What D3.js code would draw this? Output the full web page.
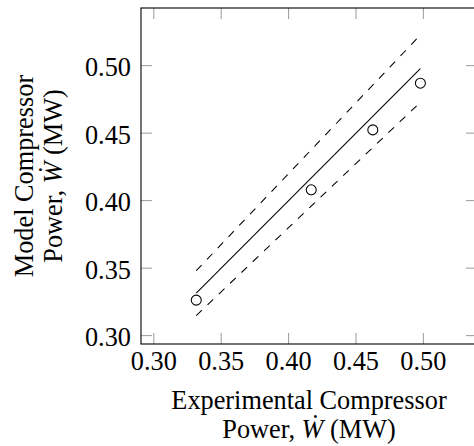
<!DOCTYPE html>
<html>
<head>
<meta charset="utf-8">
<script src="https://cdn.jsdelivr.net/npm/d3@7"></script>
<style>
  body { margin: 0; background: #fff; }
  svg { display: block; }
  text { font-family: "Liberation Serif", "Times New Roman", serif; fill: #000; }
</style>
</head>
<body>
<svg id="chart" width="474" height="446"></svg>
<script>
/* global d3 */

// measured points: experimental vs model compressor power (MW)
const expPower = [0.3315, 0.4168, 0.4625, 0.4978];
const modelPower = [0.3263, 0.408, 0.4524, 0.487];

// parity line and +/-5% band, as endpoints
const parityX = [0.3315, 0.4978];
const parityY = [0.3315, 0.4978];
const upperY = [0.3481, 0.5227];
const lowerY = [0.3149, 0.4729];

const xTicks = [0.30, 0.35, 0.40, 0.45, 0.50];
const yTicks = [0.30, 0.35, 0.40, 0.45, 0.50];

const xDomain = [0.2905, 0.5398];
const yDomain = [0.2938, 0.5427];

const svg = d3.select("#chart");
const box = { left: 141, top: 8, right: 477, bottom: 344 };
const fontSize = 26.3;
const tickLen = 11;
const tickColor = "#9a9a9a";

const x = d3.scaleLinear().domain(xDomain).range([box.left, box.right]);
const y = d3.scaleLinear().domain(yDomain).range([box.bottom, box.top]);
const fmt = d3.format(".2f");

// ticks on all four sides, pointing inward
const ticks = svg.append("g").attr("stroke", tickColor).attr("stroke-width", 1);
xTicks.forEach(t => {
  ticks.append("line").attr("x1", x(t)).attr("x2", x(t))
    .attr("y1", box.bottom).attr("y2", box.bottom - tickLen);
  ticks.append("line").attr("x1", x(t)).attr("x2", x(t))
    .attr("y1", box.top).attr("y2", box.top + tickLen);
});
yTicks.forEach(t => {
  ticks.append("line").attr("y1", y(t)).attr("y2", y(t))
    .attr("x1", box.left).attr("x2", box.left + tickLen);
  ticks.append("line").attr("y1", y(t)).attr("y2", y(t))
    .attr("x1", box.right).attr("x2", box.right - tickLen);
});

svg.append("rect")
  .attr("x", box.left).attr("y", box.top)
  .attr("width", box.right - box.left).attr("height", box.bottom - box.top)
  .attr("fill", "none").attr("stroke", "#000").attr("stroke-width", 1.1);

// tick labels
svg.append("g").selectAll("text").data(xTicks).join("text")
  .attr("x", d => x(d)).attr("y", 370)
  .attr("text-anchor", "middle").attr("font-size", fontSize)
  .text(fmt);

svg.append("g").selectAll("text").data(yTicks).join("text")
  .attr("x", 131).attr("y", d => y(d) + 10.5)
  .attr("text-anchor", "end").attr("font-size", fontSize)
  .text(fmt);

// reference lines
const line = d3.line().x(d => x(d[0])).y(d => y(d[1]));
const plot = svg.append("g").attr("fill", "none").attr("stroke", "#000").attr("stroke-width", 1.05);
plot.append("path").attr("d", line(d3.zip(parityX, parityY)));
plot.append("path").attr("d", line(d3.zip(parityX, upperY))).attr("stroke-dasharray", "7.8,7.8");
plot.append("path").attr("d", line(d3.zip(parityX, lowerY))).attr("stroke-dasharray", "7.8,7.8");

// data markers
plot.selectAll("circle").data(d3.zip(expPower, modelPower)).join("circle")
  .attr("cx", d => x(d[0])).attr("cy", d => y(d[1])).attr("r", 5)
  .attr("fill", "#fff");

// axis labels (two lines each, with italic W-dot)
function powerLine(sel) {
  sel.append("tspan").text("Power, ");
  sel.append("tspan").attr("font-style", "italic").text("\u1E86");
  sel.append("tspan").text(" (MW)");
}

const cx = (box.left + box.right) / 2;
svg.append("text").attr("x", cx).attr("y", 409)
  .attr("text-anchor", "middle").attr("font-size", fontSize)
  .text("Experimental Compressor");
svg.append("text").attr("x", cx).attr("y", 438)
  .attr("text-anchor", "middle").attr("font-size", fontSize)
  .call(powerLine);

const cy = (box.top + box.bottom) / 2;
svg.append("text")
  .attr("transform", `translate(33,${cy}) rotate(-90)`)
  .attr("text-anchor", "middle").attr("font-size", fontSize)
  .text("Model Compressor");
svg.append("text")
  .attr("transform", `translate(62,${cy}) rotate(-90)`)
  .attr("text-anchor", "middle").attr("font-size", fontSize)
  .call(powerLine);
</script>
</body>
</html>
